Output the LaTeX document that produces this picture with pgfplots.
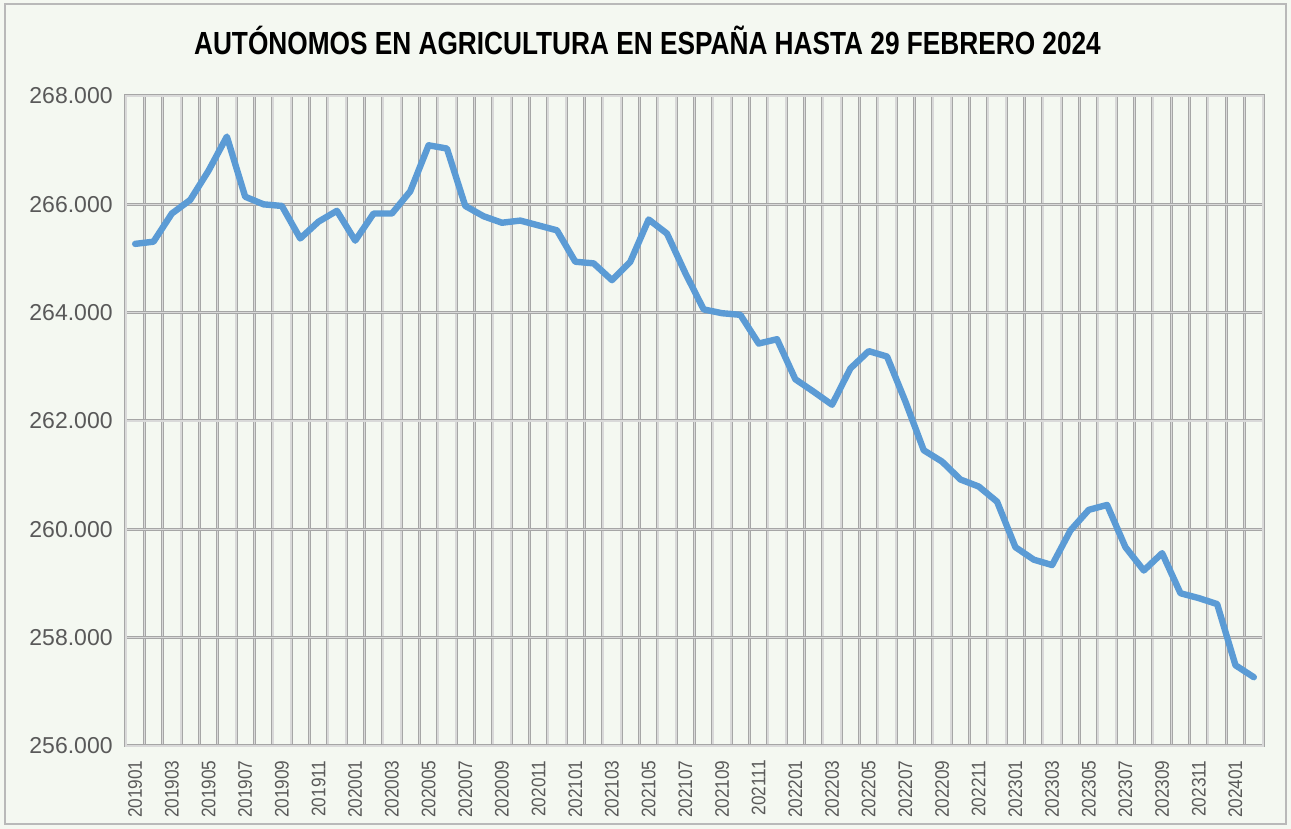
\documentclass[border=0pt]{standalone}
\usepackage{fontspec}
\setmainfont{Liberation Sans}
\newfontfamily\narrowfont[FakeStretch=0.88]{Liberation Sans}
\newfontfamily\titlefont[FakeStretch=0.82]{Liberation Sans}
\usepackage{pgfplots}
\pgfplotsset{compat=1.18}
\definecolor{bgcol}{RGB}{244,248,241}
\definecolor{linecol}{RGB}{91,155,213}
\definecolor{labcol}{RGB}{89,89,89}

\pgfplotstableread{
x y
0 265270
1 265310
2 265830
3 266080
4 266620
5 267250
6 266140
7 266000
8 265970
9 265370
10 265680
11 265880
12 265330
13 265830
14 265830
15 266240
16 267090
17 267030
18 265970
19 265780
20 265660
21 265700
22 265610
23 265520
24 264940
25 264910
26 264600
27 264940
28 265720
29 265460
30 264730
31 264060
32 263990
33 263960
34 263430
35 263510
36 262770
37 262540
38 262300
39 262970
40 263290
41 263190
42 262360
43 261460
44 261250
45 260920
46 260790
47 260510
48 259670
49 259440
50 259340
51 259980
52 260360
53 260450
54 259670
55 259240
56 259560
57 258820
58 258730
59 258620
60 257490
61 257270
}\autonomos

\begin{document}
\begin{tikzpicture}
% page background and frame
\fill[bgcol] (-63pt,-41.5pt) rectangle (582.5pt,373pt);
\draw[gray!55, line width=0.6pt] (-60.5pt,-39pt) rectangle (580pt,371pt);
\useasboundingbox (-63pt,-41.5pt) rectangle (582.5pt,373pt);

\begin{axis}[
  scale only axis,
  width=568.5pt, height=325pt,
  xmin=-0.5, xmax=61.5,
  ymin=256000, ymax=268000,
  xtick={0,2,...,60},
  xticklabels={201901,201903,201905,201907,201909,201911,
    202001,202003,202005,202007,202009,202011,
    202101,202103,202105,202107,202109,202111,
    202201,202203,202205,202207,202209,202211,
    202301,202303,202305,202307,202309,202311,202401},
  minor xtick={-0.5,0.5,...,61.5},
  ytick={256000,258000,...,268000},
  yticklabels={256.000,258.000,260.000,262.000,264.000,266.000,268.000},
  scaled y ticks=false,
  xmajorgrids=false, xminorgrids=true, ymajorgrids=true,
  major tick length=0pt, minor tick length=0pt,
  minor grid style={draw=gray!70, line width=0.35pt, double=gray!30, double distance=0.8pt},
  major grid style={draw=gray!70, line width=0.35pt, double=gray!30, double distance=0.8pt},
  axis line style={draw=gray!70, line width=0.35pt, double=gray!30, double distance=0.8pt},
  xticklabel style={font=\narrowfont\fontsize{9.8}{10}\selectfont, text=labcol,
    yshift=-7pt, rotate=90, anchor=east, inner sep=0pt},
  yticklabel style={font=\fontsize{11.5}{12}\selectfont, text=labcol,
    anchor=east, inner sep=0pt, xshift=-6.5pt},
  axis background/.style={fill=bgcol},
]
\addplot[linecol, line width=3.2pt, line join=round, line cap=round] table[x=x, y=y] {\autonomos};
\end{axis}

\node[anchor=base, inner sep=0pt, font=\titlefont\bfseries\fontsize{16}{18}\selectfont]
  at (260.75pt,345.5pt) {AUTÓNOMOS EN AGRICULTURA EN ESPAÑA HASTA 29 FEBRERO 2024};
\end{tikzpicture}
\end{document}
